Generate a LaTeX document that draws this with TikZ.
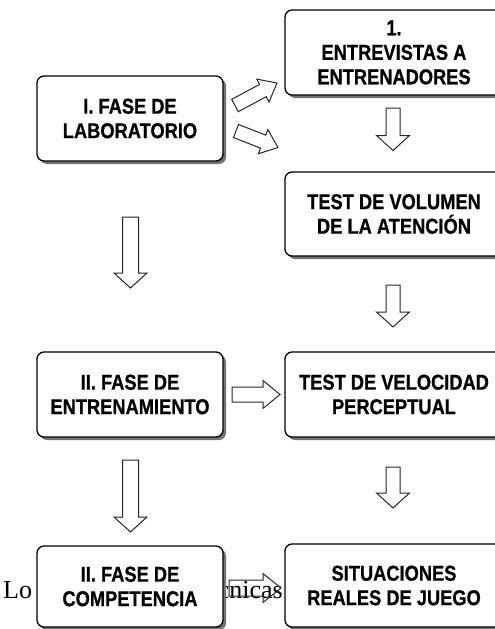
\documentclass[tikz,border=0pt]{standalone}
\usepackage{fontspec}
\setmainfont{Liberation Serif}
\newfontfamily\boxfont[FakeStretch=0.85, FakeBold=0.7]{Liberation Sans Bold}
\usetikzlibrary{calc,shadows}
\tikzset{
  box/.style={draw=black, line width=1.3pt, rounded corners=7pt, fill=white,
    align=center, inner sep=0pt,
    font=\boxfont\fontsize{21.5}{24.5}\selectfont,
    drop shadow={shadow xshift=3pt, shadow yshift=-3pt, fill=black!55, opacity=1}},
  lbox/.style={box, minimum width=186pt},
  rbox/.style={box, minimum width=218pt},
  barrow/.style={draw=black!85, line width=1pt, line join=miter},
  bgtext/.style={inner sep=0pt, font=\fontsize{26}{30}\selectfont}
}
% #1 tail, #2 tip, #3 shaft half width, #4 head half width, #5 head length
\newcommand\blockarrow[5]{%
  \coordinate (H) at ($(#2)!#5!(#1)$);
  \draw[barrow] ($(#1)!#3!90:(#2)$) -- ($(H)!#3!-90:(#1)$) -- ($(H)!#4!-90:(#1)$)
    -- (#2) -- ($(H)!#4!90:(#1)$) -- ($(H)!#3!90:(#1)$) -- ($(#1)!#3!-90:(#2)$) -- cycle;
}
\begin{document}
\begin{tikzpicture}[x=1pt, y=-1pt]
\useasboundingbox (0,0) rectangle (495,629);
\clip (0,0) rectangle (495,629);

% background text fragments
\node[bgtext, anchor=base west] (lo) at (3,598) {Lo};
\node[bgtext, anchor=base east] (cn) at (283,598) {cnicas};

% arrow end points
\coordinate (d1t) at (235,105.5);  \coordinate (d1h) at (277,83);
\coordinate (d2t) at (236,131);    \coordinate (d2h) at (278,147.5);
\coordinate (v1t) at (393,108);    \coordinate (v1h) at (393,150.5);
\coordinate (v2t) at (393,285);    \coordinate (v2h) at (393,327);
\coordinate (v3t) at (393,467);    \coordinate (v3h) at (393,508);
\coordinate (l1t) at (130.5,217);  \coordinate (l1h) at (130.5,288);
\coordinate (l2t) at (130.5,460);  \coordinate (l2h) at (130.5,532);
\coordinate (h1t) at (232,394.5);  \coordinate (h1h) at (280,394.5);
\coordinate (h2t) at (229,588);    \coordinate (h2h) at (281,588);

\blockarrow{d1t}{d1h}{7pt}{13pt}{16pt}
\blockarrow{d2t}{d2h}{7pt}{13pt}{16pt}
\blockarrow{v1t}{v1h}{7pt}{16.5pt}{15pt}
\blockarrow{v2t}{v2h}{7pt}{16.5pt}{15pt}
\blockarrow{v3t}{v3h}{7pt}{16.5pt}{15pt}
\blockarrow{l1t}{l1h}{8pt}{16.5pt}{15pt}
\blockarrow{l2t}{l2h}{8pt}{16.5pt}{15pt}
\blockarrow{h1t}{h1h}{7.5pt}{14pt}{17pt}
\blockarrow{h2t}{h2h}{8pt}{14.5pt}{18pt}

% boxes
\node[lbox, minimum height=85pt] (lab) at (130,118.5) {I. FASE DE\\LABORATORIO};
\node[rbox, minimum height=85pt] (ent) at (394,52.5) {1.\\ENTREVISTAS A\\ENTRENADORES};
\node[rbox, minimum height=84pt] (vol) at (394,214) {TEST DE VOLUMEN\\DE LA ATENCIÓN};
\node[lbox, minimum height=85pt] (fen) at (130,394.5) {II. FASE DE\\ENTRENAMIENTO};
\node[rbox, minimum height=85pt] (vel) at (394,394.5) {TEST DE VELOCIDAD\\PERCEPTUAL};
\node[lbox, minimum height=81pt] (com) at (130,586.5) {II. FASE DE\\COMPETENCIA};
\node[rbox, minimum height=83pt] (sit) at (394,585.5) {SITUACIONES\\REALES DE JUEGO};
\end{tikzpicture}
\end{document}
